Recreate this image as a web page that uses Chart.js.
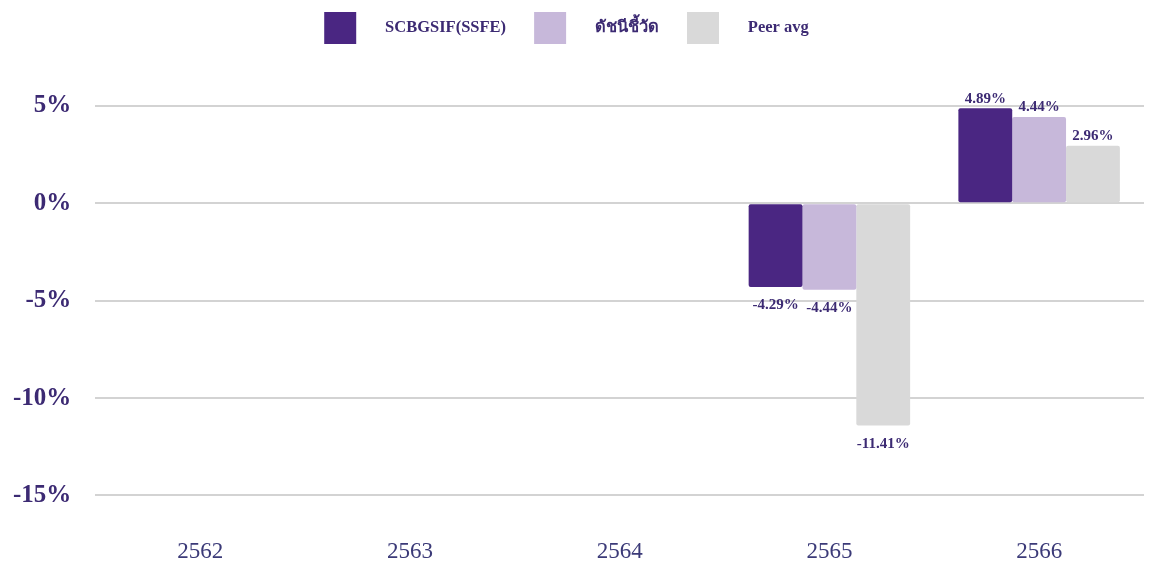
<!DOCTYPE html>
<html>
<head>
<meta charset="utf-8">
<script src="https://cdn.jsdelivr.net/npm/chart.js@4.4.0/dist/chart.umd.min.js"></script>
<style>
  body { margin: 0; background: #fff; }
  #wrap { width: 1149px; height: 570px; }
</style>
</head>
<body>
<div id="wrap"><canvas id="grafico"></canvas></div>
<script>
const anios = ['2562', '2563', '2564', '2565', '2566'];
const fondo = [null, null, null, -4.29, 4.89];
const indice = [null, null, null, -4.44, 4.44];
const peer = [null, null, null, -11.41, 2.96];
const ticksY = [5, 0, -5, -10, -15];

const colorTexto = '#3c2a73';
const serif = "'Liberation Serif', 'Noto Sans', serif";

// Etiquetas de valores sobre/bajo las barras
const etiquetas = {
  id: 'etiquetas',
  afterDatasetsDraw(chart) {
    const ctx = chart.ctx;
    ctx.save();
    ctx.font = 'bold 15px ' + serif;
    ctx.fillStyle = colorTexto;
    ctx.textAlign = 'center';
    chart.data.datasets.forEach((ds, i) => {
      chart.getDatasetMeta(i).data.forEach((bar, j) => {
        const v = ds.data[j];
        if (v === null) return;
        const txt = v.toFixed(2) + '%';
        if (v >= 0) {
          ctx.textBaseline = 'bottom';
          ctx.fillText(txt, bar.x, bar.y - 2);
        } else {
          ctx.textBaseline = 'top';
          ctx.fillText(txt, bar.x, bar.y + 11);
        }
      });
    });
    ctx.restore();
  }
};

// Espacio extra debajo de la leyenda
const margenLeyenda = {
  id: 'margenLeyenda',
  beforeInit(chart) {
    const fit = chart.legend.fit;
    chart.legend.fit = function () {
      fit.bind(chart.legend)();
      this.height += 52;
    };
  }
};

const sep = '     ';

new Chart(document.getElementById('grafico'), {
  type: 'bar',
  data: {
    labels: anios,
    datasets: [
      { label: sep + 'SCBGSIF(SSFE)', data: fondo, backgroundColor: '#4a2682' },
      { label: sep + 'ดัชนีชี้วัด', data: indice, backgroundColor: '#c7b8da' },
      { label: sep + 'Peer avg', data: peer, backgroundColor: '#d9d9d9' }
    ]
  },
  options: {
    responsive: true,
    maintainAspectRatio: false,
    animation: false,
    layout: { padding: { top: -16, right: 5, left: -11, bottom: -31 } },
    datasets: {
      bar: { categoryPercentage: 0.77, barPercentage: 1.0, borderRadius: 2, borderSkipped: false }
    },
    plugins: {
      tooltip: { enabled: false },
      legend: {
        position: 'top',
        labels: {
          boxWidth: 32,
          boxHeight: 32,
          padding: 28,
          color: colorTexto,
          font: { family: serif, size: 16.5, weight: 'bold' }
        }
      }
    },
    scales: {
      x: {
        grid: { display: false },
        border: { display: false },
        ticks: {
          padding: 35,
          color: '#3b3a78',
          font: { family: serif, size: 23 }
        }
      },
      y: {
        min: -15,
        max: 5,
        afterBuildTicks(axis) {
          axis.ticks = ticksY.map(v => ({ value: v }));
        },
        grid: { color: '#d3d3d3', lineWidth: 2, drawTicks: false },
        border: { display: false },
        ticks: {
          padding: 24,
          color: colorTexto,
          font: { family: serif, size: 25, weight: 'bold' },
          callback: v => v + '%'
        }
      }
    }
  },
  plugins: [etiquetas, margenLeyenda]
});
</script>
</body>
</html>
